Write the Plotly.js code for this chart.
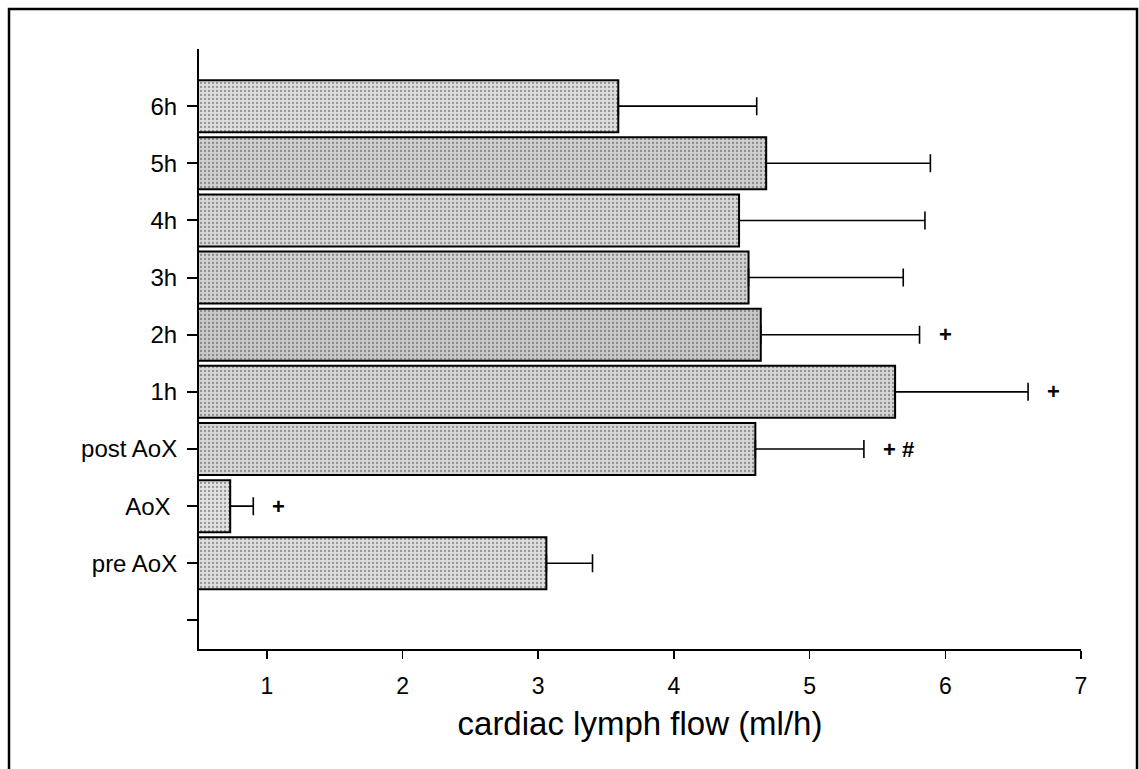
<!DOCTYPE html>
<html>
<head>
<meta charset="utf-8">
<script src="https://cdn.plot.ly/plotly-3.0.1.min.js"></script>
<style>
  html, body { margin: 0; padding: 0; background: #fff; }
  #chart { width: 1139px; height: 769px; }
</style>
</head>
<body>
<div id="chart"></div>
<script>
// ---- data ----
const tickLabels = ['', 'pre AoX', 'AoX\u00a0', 'post AoX', '1h', '2h', '3h', '4h', '5h', '6h'];
const categories = ['pre AoX', 'AoX\u00a0', 'post AoX', '1h', '2h', '3h', '4h', '5h', '6h'];
const flowMean   = [3.06, 0.73, 4.60, 5.63, 4.64, 4.55, 4.48, 4.68, 3.59];
const flowSD     = [0.34, 0.17, 0.80, 0.98, 1.17, 1.14, 1.37, 1.21, 1.02];
const markers    = ['', '+', '+ #', '+', '+', '', '', '', ''];
const xTicks     = [1, 2, 3, 4, 5, 6, 7];

// bar shades (stipple darkness differs slightly per bar)
const barShade = ['#dedede', '#e2e2e2', '#d8d8d8', '#d6d6d6', '#c9c9c9', '#d2d2d2', '#d8d8d8', '#d0d0d0', '#dedede'];

const yPos = categories.map(c => tickLabels.indexOf(c));

const trace = {
  type: 'bar',
  orientation: 'h',
  x: flowMean,
  y: yPos,
  marker: {
    color: barShade,
    line: { color: '#000', width: 2 },
    pattern: { shape: '.', size: 4, solidity: 0.25, fgcolor: '#8a8a8a', fillmode: 'overlay' }
  },
  error_x: {
    type: 'data',
    symmetric: false,
    array: flowSD,
    arrayminus: flowSD.map(() => 0),
    color: '#000',
    thickness: 1.6,
    width: 9
  },
  hoverinfo: 'none'
};

const annotations = [];
markers.forEach((m, i) => {
  if (!m) return;
  annotations.push({
    x: flowMean[i] + flowSD[i],
    y: yPos[i],
    xref: 'x', yref: 'y',
    text: '<b>' + m + '</b>',
    showarrow: false,
    xanchor: 'left',
    yanchor: 'middle',
    xshift: 17,
    font: { family: 'Liberation Sans, Arial, sans-serif', size: 22, color: '#000' }
  });
});

// plot area in pixels: x 199..1081, y 49..649
const L = 199, R = 1081, T = 49, B = 649;
const pw = R - L, ph = B - T;
const px = v => (v - L) / pw;
const py = v => (B - v) / ph;

const layout = {
  width: 1139,
  height: 769,
  margin: { l: L, r: 1139 - R, t: T, b: 769 - B, pad: 0 },
  paper_bgcolor: '#fff',
  plot_bgcolor: '#fff',
  showlegend: false,
  bargap: 0.09,
  font: { family: 'Liberation Sans, Arial, sans-serif', color: '#000' },
  xaxis: {
    range: [0.5, 7],
    tickmode: 'array',
    tickvals: xTicks,
    ticktext: xTicks.map(String),
    ticks: 'outside',
    ticklen: 8,
    tickwidth: 1.5,
    tickcolor: '#000',
    showgrid: false,
    zeroline: false,
    showline: true,
    linecolor: '#000',
    linewidth: 2,
    tickfont: { size: 23, color: '#000' },
    ticklabelstandoff: 7,
    title: { text: 'cardiac lymph flow (ml/h)', font: { size: 33, color: '#000' }, standoff: 14 },
    fixedrange: true
  },
  yaxis: {
    range: [-0.5, 10],
    tickmode: 'array',
    tickvals: tickLabels.map((_, i) => i),
    ticktext: tickLabels,
    ticks: 'outside',
    ticklen: 10,
    tickwidth: 2,
    tickcolor: '#000',
    showgrid: false,
    zeroline: false,
    showline: true,
    linecolor: '#000',
    linewidth: 2,
    tickfont: { size: 24, color: '#000' },
    ticklabelstandoff: 5,
    fixedrange: true
  },
  shapes: [
    {
      type: 'rect', xref: 'paper', yref: 'paper',
      x0: px(9), x1: px(1137), y0: py(790), y1: py(9),
      line: { color: '#000', width: 2.5 },
      fillcolor: 'rgba(0,0,0,0)',
      layer: 'below'
    }
  ],
  annotations: annotations
};

Plotly.newPlot('chart', [trace], layout, { displayModeBar: false, staticPlot: true });
</script>
</body>
</html>
